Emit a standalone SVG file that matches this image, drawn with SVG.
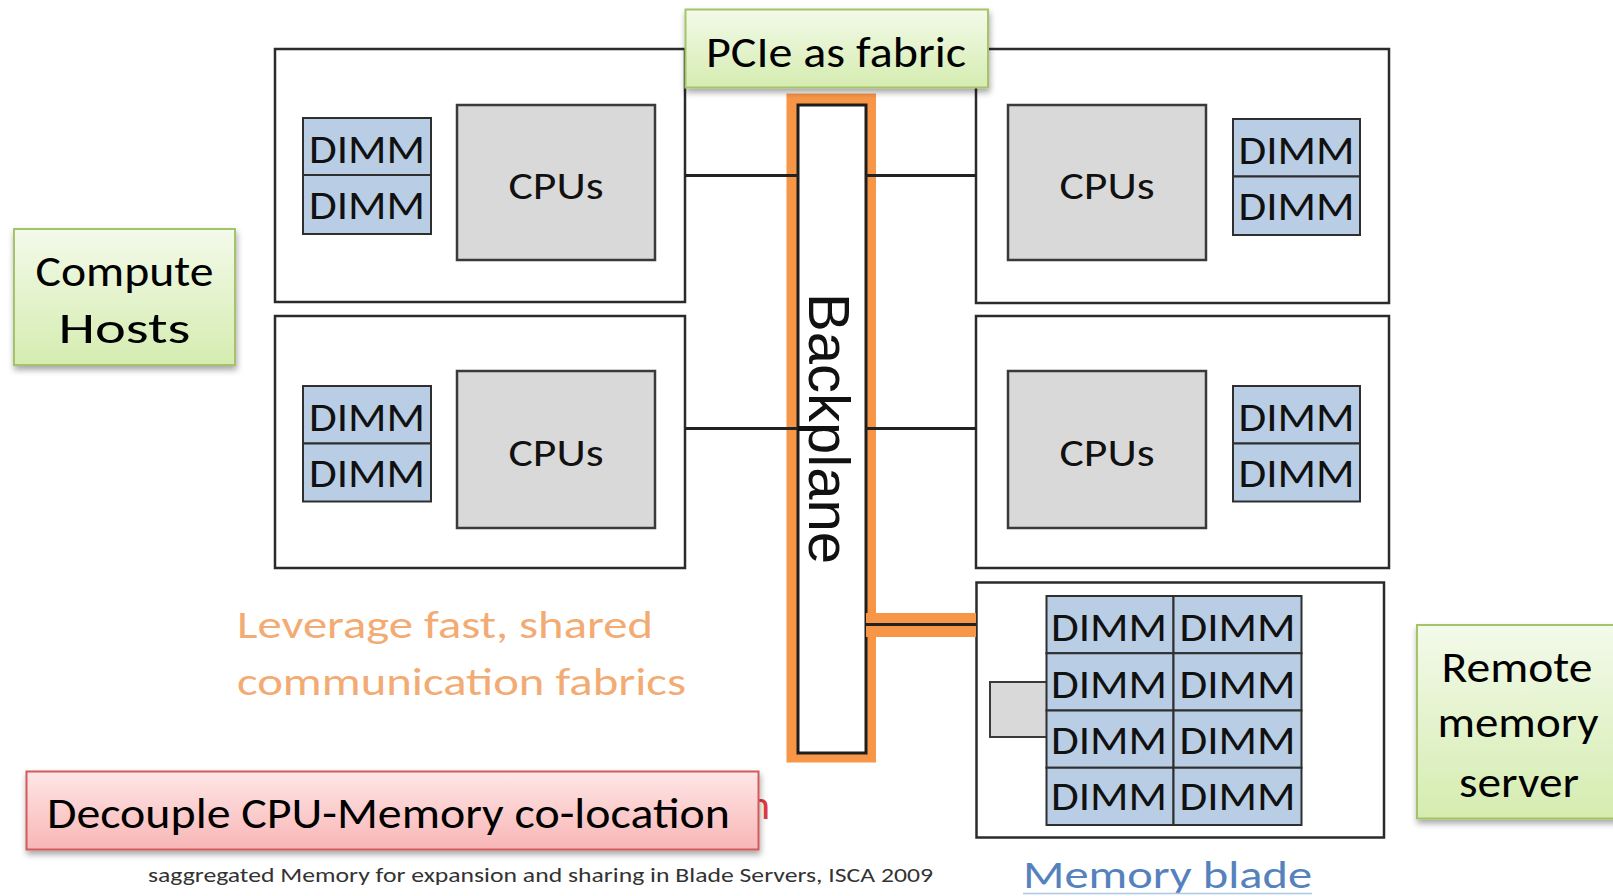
<svg xmlns="http://www.w3.org/2000/svg" width="1613" height="896" viewBox="0 0 1613 896">
<defs>
  <linearGradient id="gGreen" x1="0" y1="0" x2="0" y2="1">
    <stop offset="0" stop-color="#F3FAEA"/>
    <stop offset="1" stop-color="#D5ECB0"/>
  </linearGradient>
  <linearGradient id="gRed" x1="0" y1="0" x2="0" y2="1">
    <stop offset="0" stop-color="#FFE6E6"/>
    <stop offset="1" stop-color="#F8B6B6"/>
  </linearGradient>
  <filter id="shadow" x="-10%" y="-10%" width="130%" height="140%">
    <feDropShadow dx="1" dy="4" stdDeviation="3" flood-color="#000" flood-opacity="0.35"/>
  </filter>
</defs>
<style>
  .host { fill: #fff; stroke: #2b2b2b; stroke-width: 2.5; }
  .cpu { fill: #D9D9D9; stroke: #3a3a3a; stroke-width: 2.5; }
  .dimm { fill: #B9CDE5; stroke: #2f2f2f; stroke-width: 2; }
  .green { fill: url(#gGreen); stroke: #A5C46A; stroke-width: 2; filter: url(#shadow); }
  .red { fill: url(#gRed); stroke: #D25A5A; stroke-width: 2; filter: url(#shadow); }
  .t { font-family: Carlito, Lato, "Open Sans", sans-serif; fill: #111; }
  .dt { font-size: 41px; text-anchor: middle; }
  .ct { font-size: 39px; text-anchor: middle; }
  .lab { font-size: 43px; text-anchor: middle; fill: #000; }
  .wire { stroke: #222; stroke-width: 3; fill: none; }
</style>

<!-- Host top-left -->
<g id="host-tl">
  <rect class="host" x="275" y="49" width="410" height="253"/>
  <rect class="dimm" x="303" y="118" width="128" height="57"/>
  <rect class="dimm" x="303" y="175" width="128" height="59"/>
  <text class="t dt" x="367" y="163" textLength="116" lengthAdjust="spacingAndGlyphs">DIMM</text>
  <text class="t dt" x="367" y="219" textLength="116" lengthAdjust="spacingAndGlyphs">DIMM</text>
  <rect class="cpu" x="457" y="105" width="198" height="155"/>
  <text class="t ct" x="556" y="199" textLength="95" lengthAdjust="spacingAndGlyphs">CPUs</text>
</g>

<!-- Host bottom-left -->
<g id="host-bl">
  <rect class="host" x="275" y="316" width="410" height="252"/>
  <rect class="dimm" x="303" y="386" width="128" height="57.5"/>
  <rect class="dimm" x="303" y="443.5" width="128" height="58"/>
  <text class="t dt" x="367" y="431" textLength="116" lengthAdjust="spacingAndGlyphs">DIMM</text>
  <text class="t dt" x="367" y="487" textLength="116" lengthAdjust="spacingAndGlyphs">DIMM</text>
  <rect class="cpu" x="457" y="371" width="198" height="157"/>
  <text class="t ct" x="556" y="466" textLength="95" lengthAdjust="spacingAndGlyphs">CPUs</text>
</g>

<!-- Host top-right -->
<g id="host-tr">
  <rect class="host" x="976" y="49" width="413" height="254"/>
  <rect class="cpu" x="1008" y="105" width="198" height="155"/>
  <text class="t ct" x="1107" y="199" textLength="95" lengthAdjust="spacingAndGlyphs">CPUs</text>
  <rect class="dimm" x="1233" y="119" width="127" height="57.5"/>
  <rect class="dimm" x="1233" y="176.5" width="127" height="58.5"/>
  <text class="t dt" x="1296.5" y="164" textLength="116" lengthAdjust="spacingAndGlyphs">DIMM</text>
  <text class="t dt" x="1296.5" y="220" textLength="116" lengthAdjust="spacingAndGlyphs">DIMM</text>
</g>

<!-- Host bottom-right -->
<g id="host-br">
  <rect class="host" x="976" y="316" width="413" height="252"/>
  <rect class="cpu" x="1008" y="371" width="198" height="157"/>
  <text class="t ct" x="1107" y="466" textLength="95" lengthAdjust="spacingAndGlyphs">CPUs</text>
  <rect class="dimm" x="1233" y="386" width="127" height="57.5"/>
  <rect class="dimm" x="1233" y="443.5" width="127" height="58"/>
  <text class="t dt" x="1296.5" y="431" textLength="116" lengthAdjust="spacingAndGlyphs">DIMM</text>
  <text class="t dt" x="1296.5" y="487" textLength="116" lengthAdjust="spacingAndGlyphs">DIMM</text>
</g>

<!-- Memory blade -->
<g id="memory-blade">
  <rect class="host" x="976.5" y="582.5" width="407.5" height="255"/>
  <rect class="cpu" x="990" y="682" width="57" height="55" style="stroke-width:2"/>
  <rect class="dimm" x="1046.5" y="596" width="127" height="57.25"/>
  <rect class="dimm" x="1173.5" y="596" width="128" height="57.25"/>
  <rect class="dimm" x="1046.5" y="653.25" width="127" height="57.25"/>
  <rect class="dimm" x="1173.5" y="653.25" width="128" height="57.25"/>
  <rect class="dimm" x="1046.5" y="710.5" width="127" height="57.25"/>
  <rect class="dimm" x="1173.5" y="710.5" width="128" height="57.25"/>
  <rect class="dimm" x="1046.5" y="767.75" width="127" height="57.25"/>
  <rect class="dimm" x="1173.5" y="767.75" width="128" height="57.25"/>
  <text class="t dt" x="1109" y="641" textLength="116" lengthAdjust="spacingAndGlyphs">DIMM</text>
  <text class="t dt" x="1237.5" y="641" textLength="116" lengthAdjust="spacingAndGlyphs">DIMM</text>
  <text class="t dt" x="1109" y="697.5" textLength="116" lengthAdjust="spacingAndGlyphs">DIMM</text>
  <text class="t dt" x="1237.5" y="697.5" textLength="116" lengthAdjust="spacingAndGlyphs">DIMM</text>
  <text class="t dt" x="1109" y="753.5" textLength="116" lengthAdjust="spacingAndGlyphs">DIMM</text>
  <text class="t dt" x="1237.5" y="753.5" textLength="116" lengthAdjust="spacingAndGlyphs">DIMM</text>
  <text class="t dt" x="1109" y="810" textLength="116" lengthAdjust="spacingAndGlyphs">DIMM</text>
  <text class="t dt" x="1237.5" y="810" textLength="116" lengthAdjust="spacingAndGlyphs">DIMM</text>
  <text class="t" x="1167.5" y="888" font-size="39" text-anchor="middle" textLength="289" lengthAdjust="spacingAndGlyphs" style="fill:#5582BD">Memory blade</text>
  <line x1="1023" y1="893.5" x2="1312" y2="893.5" stroke="#A9C8E8" stroke-width="1.5"/>
</g>

<!-- Backplane -->
<g id="backplane">
  <rect x="786.5" y="93.5" width="89.5" height="669" fill="#F79646"/>
  <rect x="798" y="105" width="68" height="648" fill="#fff" stroke="#1d1d1d" stroke-width="3"/>
  <text transform="translate(809,428.5) rotate(90)" x="0" y="0" font-family="Liberation Sans, Arial, sans-serif" font-size="57" text-anchor="middle" textLength="271" lengthAdjust="spacingAndGlyphs" fill="#111">Backplane</text>
</g>

<!-- Connectors -->
<g id="connectors">
  <line class="wire" x1="685" y1="175.5" x2="798" y2="175.5"/>
  <line class="wire" x1="866" y1="175.5" x2="976" y2="175.5"/>
  <line class="wire" x1="685" y1="428.5" x2="798" y2="428.5"/>
  <line class="wire" x1="866" y1="428.5" x2="976" y2="428.5"/>
  <rect x="866" y="613" width="110" height="24" fill="#F79646"/>
  <line class="wire" x1="866" y1="624.5" x2="976" y2="624.5"/>
</g>

<!-- Labels -->
<g id="label-pcie">
  <rect class="green" x="685.5" y="9.5" width="302.5" height="78"/>
  <text class="t lab" x="836" y="66.5" textLength="260" lengthAdjust="spacingAndGlyphs">PCIe as fabric</text>
</g>

<g id="label-compute">
  <rect class="green" x="14" y="229" width="221" height="136"/>
  <text class="t lab" x="124.5" y="286" textLength="178" lengthAdjust="spacingAndGlyphs">Compute</text>
  <text class="t lab" x="124.5" y="343" textLength="132" lengthAdjust="spacingAndGlyphs">Hosts</text>
</g>

<g id="label-remote">
  <rect class="green" x="1417" y="625" width="210" height="193.5"/>
  <text class="t lab" x="1517" y="681.5" textLength="151" lengthAdjust="spacingAndGlyphs">Remote</text>
  <text class="t lab" x="1518" y="736.5" textLength="161" lengthAdjust="spacingAndGlyphs">memory</text>
  <text class="t lab" x="1519" y="796.5" textLength="120" lengthAdjust="spacingAndGlyphs">server</text>
</g>

<g id="label-leverage">
  <text class="t" x="237" y="638" font-size="39" textLength="416" lengthAdjust="spacingAndGlyphs" style="fill:#F3AB74">Leverage fast, shared</text>
  <text class="t" x="237" y="695" font-size="39" textLength="449" lengthAdjust="spacingAndGlyphs" style="fill:#F3AB74">communication fabrics</text>
</g>

<g id="label-decouple">
  <text class="t" x="748" y="819" font-size="42" style="fill:#E03C3C">n</text>
  <rect class="red" x="26.5" y="771.5" width="732" height="78"/>
  <text class="t" x="47" y="828" font-size="43" textLength="683" lengthAdjust="spacingAndGlyphs" style="fill:#000">Decouple CPU-Memory co-location</text>
</g>

<g id="label-citation">
  <text class="t" x="148" y="881.5" font-size="20" textLength="785" lengthAdjust="spacingAndGlyphs" style="fill:#333">saggregated Memory for expansion and sharing in Blade Servers, ISCA 2009</text>
</g>
</svg>
